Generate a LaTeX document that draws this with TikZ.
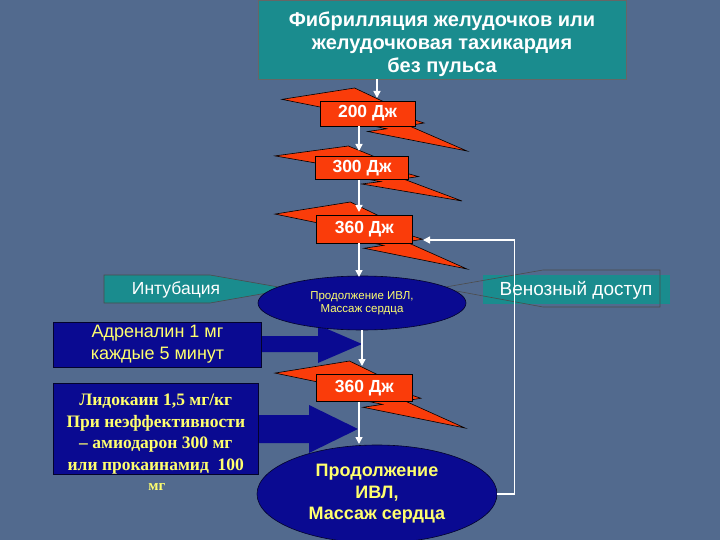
\documentclass[tikz,border=0pt]{standalone}
\usepackage{fontspec}
\setmainfont{Liberation Sans}
\newfontfamily\lidofont{Liberation Serif}
\usepackage{xcolor}
\usepackage{tikz}
\usetikzlibrary{shapes.geometric, arrows.meta}

\definecolor{slidebg}{RGB}{82,106,142}
\definecolor{tealbox}{RGB}{26,140,142}
\definecolor{zapred}{RGB}{250,60,10}
\definecolor{navybox}{RGB}{10,10,145}
\definecolor{lemon}{RGB}{255,255,110}

% lightning bolt in a 100 x 100 box, y pointing down
\tikzset{zap/.pic={
    \draw[black, line width=0.6pt, fill=zapred]
        (39.22,0) -- (59.54,28.15) -- (51.16,31.47) -- (76.75,55.59)
        -- (68.37,59.62) -- (100,100) -- (46.35,69.05) -- (56.58,64.75)
        -- (23.25,44.93) -- (35.19,38.81) -- (0,18.01) -- cycle;
}}

\begin{document}
\begin{tikzpicture}[x=1pt, y=-1pt,
    flow/.style={draw=white, line width=1.5pt, -{Triangle[length=7pt,width=7pt]}},
    joule/.style={draw=black, line width=0.6pt, fill=zapred, text=white, inner sep=0pt,
        font=\bfseries\fontsize{17.5}{20}\selectfont},
    drug/.style={draw=black!70!navybox, line width=0.6pt, fill=navybox, text=lemon, inner sep=0pt, align=center},
    cpr/.style={ellipse, draw=black!70!navybox, line width=0.6pt, fill=navybox, text=lemon, inner sep=0pt, align=center}]

\fill[slidebg] (0,0) rectangle (720,540);
\useasboundingbox (0,0) rectangle (720,540);

% bolts
\pic[xscale=1.85, yscale=0.63] at (282,88) {zap};
\pic[xscale=1.87, yscale=0.55] at (275,146) {zap};
\pic[xscale=1.92, yscale=0.67] at (275,202) {zap};
\pic[xscale=1.90, yscale=0.67] at (275,361) {zap};

\node[joule, minimum width=95pt, minimum height=25pt] (j200) at (367.5,113.5) {200 Дж};
\node[joule, minimum width=93pt, minimum height=23.5pt] (j300) at (362,168) {300 Дж};
\node[joule, minimum width=96.5pt, minimum height=28pt] (j360a) at (364.3,229) {360 Дж};
\node[joule, minimum width=96.5pt, minimum height=26.5pt] (j360b) at (364.3,388) {360 Дж};

% top box
\node[draw=black!60, line width=0.6pt, fill=tealbox, text=white, align=center, inner sep=0pt,
    minimum width=368pt, minimum height=79pt, font=\bfseries\fontsize{20}{23}\selectfont]
    (fib) at (442,39.5) {\rule{0pt}{24pt}Фибрилляция желудочков или\\желудочковая тахикардия\\без пульса};

% intubation
\draw[black!70, line width=0.6pt, fill=tealbox] (104,275) -- (210,275) -- (290,289) -- (210,303) -- (104,303) -- cycle;
\node[text=white, font=\fontsize{17.5}{20}\selectfont] (intub) at (176,290) {Интубация};

% venous access
\fill[tealbox] (483,275) rectangle (670,304);
\draw[black!70, line width=0.6pt] (660,270) -- (543,270) -- (440,288) -- (543,307) -- (660,307) -- cycle;
\node[text=white, font=\fontsize{19}{22}\selectfont] (vena) at (576,290) {Венозный доступ};

% drugs
\fill[navybox] (258,336) -- (318,336) -- (318,325) -- (362,344) -- (318,363) -- (318,352) -- (258,352) -- cycle;
\fill[navybox] (256,415) -- (309,415) -- (309,405) -- (358,429) -- (309,453) -- (309,443) -- (256,443) -- cycle;
\node[drug, minimum width=208pt, minimum height=45pt, font=\fontsize{18}{22}\selectfont]
    (adren) at (157.5,344.3) {Адреналин 1 мг\\каждые 5 минут};
\node[drug, minimum width=205pt, minimum height=90.5pt, font=\lidofont\bfseries\fontsize{17.5}{21.5}\selectfont]
    (lido) at (155.8,428.7) {\rule{0pt}{22pt}Лидокаин 1,5 мг/кг\\При неэффективности\\– амиодарон 300 мг\\или прокаинамид\ \ 100};
\node[text=lemon, font=\lidofont\bfseries\fontsize{15}{17}\selectfont] (mg) at (157,487) {мг};

% ventilation + massage
\node[cpr, minimum width=208pt, minimum height=54pt, font=\fontsize{11.5}{13.5}\selectfont]
    (ivl1) at (362,303) {Продолжение ИВЛ,\\Массаж сердца};
\node[cpr, minimum width=240pt, minimum height=98pt, font=\bfseries\fontsize{18}{21.5}\selectfont]
    (ivl2) at (377,494) {Продолжение\\ИВЛ,\\Массаж сердца};

\coordinate (b1top) at (377,98);
\coordinate (b2top) at (359,151);
\coordinate (b3top) at (359,212);
\coordinate (e1top) at (359,277);
\coordinate (b4top) at (362,366);
\coordinate (e2top) at (359,444);
\coordinate (back) at (423,240);

\draw[flow] (b1top |- fib.south) -- (b1top); % fib-200
\draw[flow] (b2top |- j200.south) -- (b2top); % 200-300
\draw[flow] (b3top |- j300.south) -- (b3top); % 300-360
\draw[flow] (e1top |- j360a.south) -- (e1top); % 360-ivl
\draw[flow] (ivl1.south) -- (b4top); % ivl-360
\draw[flow] (e2top |- j360b.south) -- (e2top); % 360-ivl
\draw[flow] (ivl2.east) -- ++(17,0) |- (back); % loop back
\end{tikzpicture}
\end{document}
